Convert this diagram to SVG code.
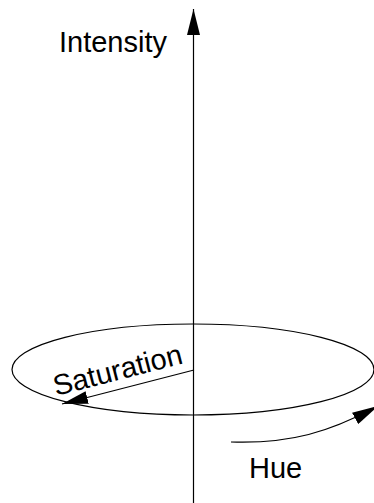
<svg xmlns="http://www.w3.org/2000/svg" width="374" height="503" viewBox="0 0 374 503">
<defs>
<style>
.ln{fill:none;stroke:#000;stroke-width:1.2}
.lbl{font-family:"Liberation Sans",Arial,sans-serif;font-size:29px;fill:#000}
</style>
<marker id="ah" viewBox="0 0 26 13" refX="26" refY="6.5" markerWidth="26" markerHeight="13" markerUnits="userSpaceOnUse" orient="auto">
<path d="M0,0 L26,6.5 L0,13 z" fill="#000"/>
</marker>
</defs>
<rect width="374" height="503" fill="#fff"/>
<g id="connectors">
<ellipse id="hue-circle" class="ln" cx="193" cy="369.5" rx="181" ry="45.5"/>
<line id="intensity-axis" class="ln" x1="193.5" y1="503" x2="193.5" y2="9" marker-end="url(#ah)"/>
<line id="saturation-arrow" class="ln" x1="194" y1="370" x2="62" y2="404" marker-end="url(#ah)"/>
<path id="hue-arrow" class="ln" d="M231,442 C290,444 330,432 378,406" marker-end="url(#ah)"/>
</g>
<g id="intensity"><text class="lbl" x="59" y="52">Intensity</text></g>
<g id="saturation"><text class="lbl" x="56" y="396" transform="rotate(-14.4 56 396)">Saturation</text></g>
<g id="hue"><text class="lbl" x="249" y="478">Hue</text></g>
</svg>
